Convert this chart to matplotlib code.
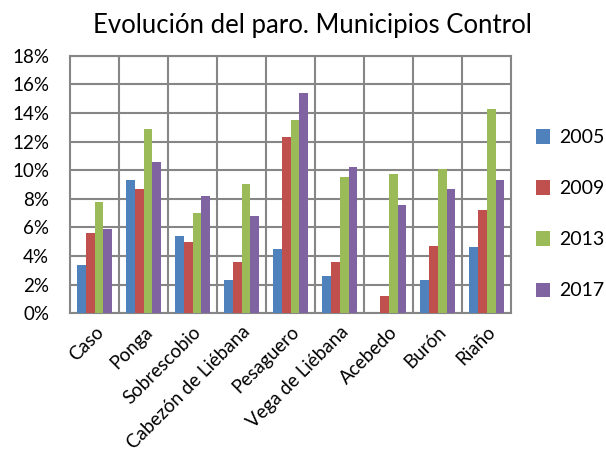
import numpy as np
import matplotlib
matplotlib.use("Agg")
import matplotlib.pyplot as plt
from matplotlib.ticker import MultipleLocator, FuncFormatter

plt.rcParams["font.family"] = ["Lato", "DejaVu Sans"]

municipios = ["Caso", "Ponga", "Sobrescobio", "Cabezón de Liébana", "Pesaguero",
              "Vega de Liébana", "Acebedo", "Burón", "Riaño"]
years = ["2005", "2009", "2013", "2017"]
paro_2005 = [3.4, 9.3, 5.4, 2.3, 4.5, 2.6, 0.0, 2.3, 4.6]
paro_2009 = [5.6, 8.7, 5.0, 3.6, 12.3, 3.6, 1.2, 4.7, 7.2]
paro_2013 = [7.8, 12.9, 7.0, 9.0, 13.5, 9.5, 9.7, 10.1, 14.3]
paro_2017 = [5.9, 10.6, 8.2, 6.8, 15.4, 10.2, 7.6, 8.7, 9.3]
colors = ["#4F81BD", "#C0504D", "#9BBB59", "#8064A2"]

series = [paro_2005, paro_2009, paro_2013, paro_2017]

fig = plt.figure(figsize=(6.06, 4.62), dpi=100)
ax = fig.add_axes([0.1155, 0.3219, 0.728, 0.5575])

n = len(municipios)
w = 1 / 5.5  # gap width 150%
x = np.arange(n)
for i, (vals, c, y) in enumerate(zip(series, colors, years)):
    offs = -2 * w + (i + 0.5) * w
    ax.bar(x + offs, vals, width=w, color=c, label=y, zorder=3, linewidth=0)

ax.set_xlim(-0.5, n - 0.5)
ax.set_ylim(0, 18)
ax.yaxis.set_major_locator(MultipleLocator(2))
ax.yaxis.set_major_formatter(FuncFormatter(lambda v, p: f"{v:.0f}%"))

# vertical lines at category boundaries
for b in np.arange(0.5, n - 0.5, 1):
    ax.axvline(b, color="#868686", lw=1.5, zorder=1)
ax.yaxis.grid(True, color="#868686", lw=1.5, zorder=1)
for s in ax.spines.values():
    s.set_color("#868686")
    s.set_linewidth(1.5)

ax.set_xticks(x)
ax.set_xticklabels(municipios, rotation=45, ha="right", rotation_mode="anchor", fontsize=13.5)
ax.tick_params(axis="x", length=0, pad=7)
ax.tick_params(axis="y", length=0, pad=15, labelsize=13.5)

fig.text(0.515, 0.944, "Evolución del paro. Municipios Control", ha="center", va="center",
         fontsize=18.5)

handles, labels = ax.get_legend_handles_labels()
fig.legend(handles, labels, loc="center left", bbox_to_anchor=(0.884, 0.536), frameon=False,
           fontsize=14, handlelength=0.75, handleheight=0.75, handletextpad=0.45,
           labelspacing=1.75, borderpad=0, borderaxespad=0)

fig.savefig("out.png", dpi=100)
